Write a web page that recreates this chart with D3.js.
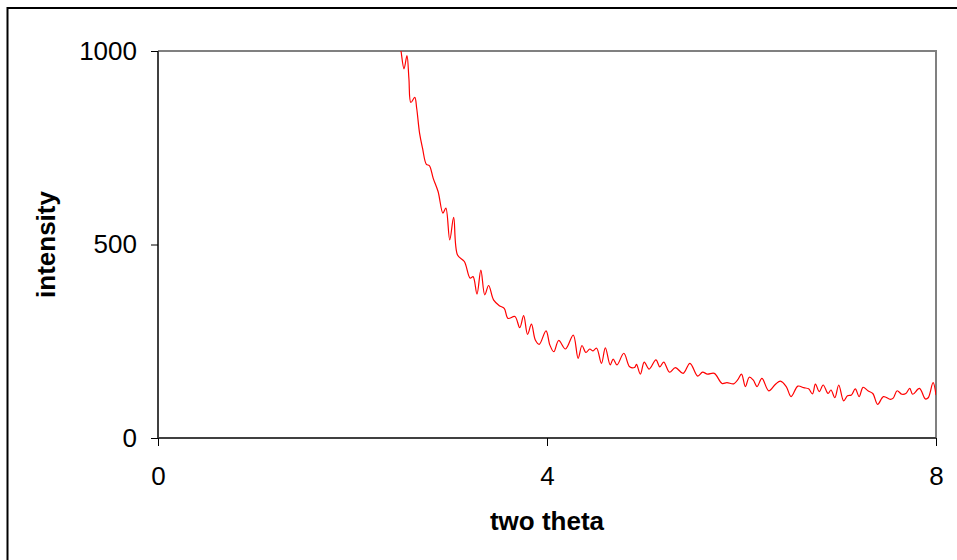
<!DOCTYPE html>
<html>
<head>
<meta charset="utf-8">
<script src="https://cdn.jsdelivr.net/npm/d3@7"></script>
<style>
  body { margin: 0; background: #fff; }
  text { font-family: "Liberation Sans", Arial, sans-serif; fill: #000; }
</style>
</head>
<body>
<div id="chart"></div>
<script>
const twoTheta = [2.46, 2.49, 2.50, 2.53, 2.56, 2.58, 2.60, 2.64, 2.66, 2.69,
  2.72, 2.76, 2.79, 2.83, 2.88, 2.93, 2.96, 3.00, 3.04, 3.08,
  3.15, 3.21, 3.24, 3.28, 3.32, 3.36, 3.40, 3.45, 3.51, 3.56,
  3.60, 3.67, 3.72, 3.76, 3.80, 3.84, 3.88, 3.92, 3.99, 4.03,
  4.07, 4.12, 4.19, 4.27, 4.32, 4.36, 4.40, 4.44, 4.47, 4.51,
  4.56, 4.60, 4.65, 4.68, 4.72, 4.79, 4.85, 4.90, 4.92, 4.96,
  5.00, 5.05, 5.12, 5.16, 5.20, 5.26, 5.32, 5.40, 5.47, 5.55,
  5.60, 5.65, 5.72, 5.80, 5.85, 5.92, 5.96, 6.00, 6.04, 6.08,
  6.12, 6.16, 6.21, 6.28, 6.35, 6.40, 6.46, 6.51, 6.58, 6.64,
  6.69, 6.73, 6.76, 6.80, 6.84, 6.89, 6.92, 6.96, 7.00, 7.05,
  7.09, 7.13, 7.17, 7.21, 7.25, 7.30, 7.35, 7.40, 7.46, 7.53,
  7.56, 7.60, 7.65, 7.69, 7.73, 7.76, 7.83, 7.89, 7.92, 7.97,
  8.00]

const intensity = [1060, 1015, 998, 954, 988, 929, 867, 880, 852, 787,
  749, 707, 704, 671, 637, 581, 594, 512, 570, 473,
  456, 413, 417, 372, 434, 370, 394, 357, 342, 335,
  309, 314, 285, 316, 268, 294, 253, 242, 277, 240,
  223, 252, 230, 266, 206, 239, 221, 230, 225, 232,
  193, 233, 189, 204, 189, 219, 184, 182, 190, 165,
  196, 178, 202, 184, 196, 170, 182, 167, 193, 160,
  170, 165, 167, 141, 143, 140, 150, 165, 133, 157,
  150, 133, 154, 122, 139, 147, 133, 107, 134, 130,
  127, 114, 139, 120, 137, 115, 124, 104, 137, 96,
  109, 111, 127, 107, 131, 122, 115, 87, 107, 100,
  103, 122, 113, 115, 128, 113, 128, 101, 104, 143,
  111]

const xTicks = [0, 4, 8]
const yTicks = [0, 500, 1000]

const w = 957
const h = 560
const plotLeft = 158, plotRight = 936, plotTop = 51, plotBottom = 438

const xScale = d3.scaleLinear().domain([0, 8]).range([plotLeft, plotRight])
const yScale = d3.scaleLinear().domain([0, 1000]).range([plotBottom, plotTop])

const svg = d3.select("#chart")
              .append("svg")
              .attr("width", w)
              .attr("height", h)

// outer chart frame (runs off the page right/bottom)
svg.append("rect")
   .attr("x", 7.5).attr("y", 8)
   .attr("width", w + 50).attr("height", h + 50)
   .attr("fill", "#fff")
   .attr("stroke", "#000")
   .attr("stroke-width", 2)

// plot area border, top and right in grey
svg.append("path")
   .attr("d", `M${plotLeft},${plotTop}H${plotRight}V${plotBottom}`)
   .attr("fill", "none")
   .attr("stroke", "#808080")
   .attr("stroke-width", 2)

svg.append("clipPath")
   .attr("id", "plotclip")
   .append("rect")
   .attr("x", plotLeft).attr("y", plotTop)
   .attr("width", plotRight - plotLeft).attr("height", plotBottom - plotTop)

const points = twoTheta.map((t, i) => [t, intensity[i]])

const line = d3.line()
               .x(d => xScale(d[0]))
               .y(d => yScale(d[1]))
               .curve(d3.curveCatmullRom.alpha(0.5))

svg.append("path")
   .datum(points)
   .attr("clip-path", "url(#plotclip)")
   .attr("fill", "none")
   .attr("stroke", "#ff0000")
   .attr("stroke-width", 1.2)
   .attr("d", line)

// axes
const xAxis = d3.axisBottom(xScale)
                .tickValues(xTicks)
                .tickFormat(d3.format("d"))
                .tickSize(8)
                .tickPadding(21)
const yAxis = d3.axisLeft(yScale)
                .tickValues(yTicks)
                .tickFormat(d3.format("d"))
                .tickSize(7)
                .tickPadding(14)

const gx = svg.append("g")
   .attr("transform", "translate(0," + plotBottom + ")")
   .call(xAxis)
const gy = svg.append("g")
   .attr("transform", "translate(" + plotLeft + ",0)")
   .call(yAxis)

;[gx, gy].forEach(g => {
  g.select(".domain").attr("stroke", "#404040").attr("stroke-width", 2)
  g.selectAll(".tick line").attr("stroke", "#000").attr("stroke-width", 1)
  g.selectAll(".tick text")
   .attr("font-family", "'Liberation Sans', Arial, sans-serif")
   .attr("font-size", 26)
   .attr("fill", "#000")
})
gx.select(".domain").attr("d", `M${plotLeft},0H${plotRight}`)
gy.select(".domain").attr("d", `M0,${plotTop}V${plotBottom}`)

// axis titles
svg.append("text")
   .attr("x", (plotLeft + plotRight) / 2)
   .attr("y", 530)
   .attr("text-anchor", "middle")
   .attr("font-size", 26)
   .attr("font-weight", "bold")
   .text("two theta")

svg.append("text")
   .attr("transform", "translate(55," + (plotTop + plotBottom) / 2 + ") rotate(-90)")
   .attr("text-anchor", "middle")
   .attr("font-size", 26)
   .attr("font-weight", "bold")
   .text("intensity")
</script>
</body>
</html>
